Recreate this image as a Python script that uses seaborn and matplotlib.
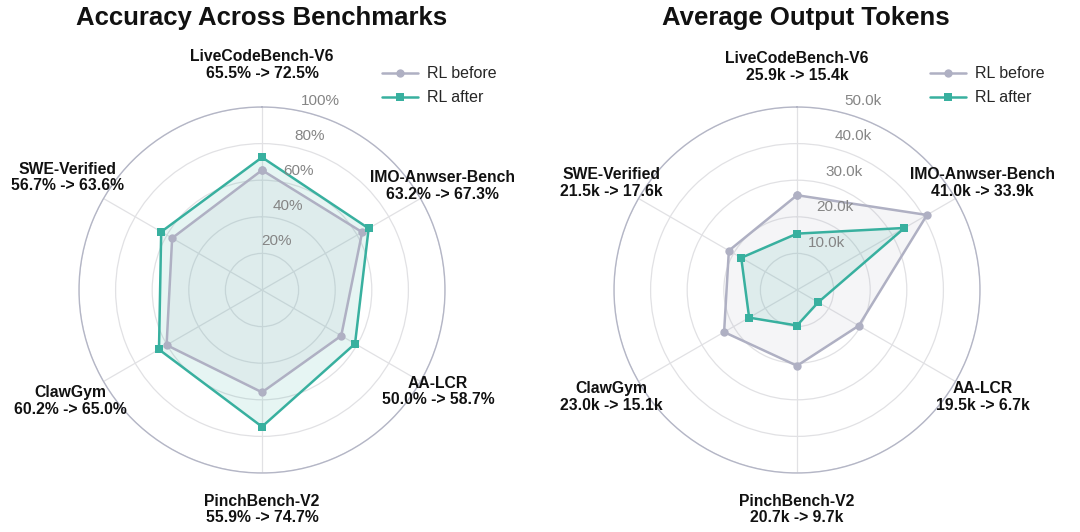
import numpy as np
import pandas as pd
import matplotlib
matplotlib.use("Agg")
import matplotlib.pyplot as plt
import seaborn as sns
from matplotlib.lines import Line2D

# ---------------- data ----------------
categories = ["LiveCodeBench-V6", "IMO-Anwser-Bench", "AA-LCR",
              "PinchBench-V2", "ClawGym", "SWE-Verified"]
acc_before = [65.5, 63.2, 50.0, 55.9, 60.2, 56.7]
acc_after = [72.5, 67.3, 58.7, 74.7, 65.0, 63.6]
tok_before = [25.9, 41.0, 19.5, 20.7, 23.0, 21.5]   # thousands
tok_after = [15.4, 33.9, 6.7, 9.7, 15.1, 17.6]
acc_ticks = [20, 40, 60, 80, 100]
acc_tick_labels = ["20%", "40%", "60%", "80%", "100%"]
tok_ticks = [10, 20, 30, 40, 50]
tok_tick_labels = ["10.0k", "20.0k", "30.0k", "40.0k", "50.0k"]
series_names = ["RL before", "RL after"]
titles = ["Accuracy Across Benchmarks", "Average Output Tokens"]

# ---------------- style ----------------
sns.set_theme(style="white")
plt.rcParams["font.family"] = ["Liberation Sans", "DejaVu Sans"]

C_BEFORE = "#afb0c3"
C_AFTER = "#38b09f"
RING = "#e1e1e4"
OUTER = "#b4b6c6"
LW = 1.8
MS = 6

fig = plt.figure(figsize=(10.8, 5.32), dpi=100)
W, H = 1080, 532


def fmt_acc(v):
    return f"{v:.1f}%"


def fmt_tok(v):
    return f"{v:.1f}k"


def make_radar(cx, before, after, ticks, tick_labels, fmt, title, label_r,
               tick_angle, tick_off, legend_x, title_x):
    R = 183
    ax = fig.add_axes([(cx - R) / W, (H - 290 - R) / H, 2 * R / W, 2 * R / H],
                      projection="polar")
    n = len(categories)
    theta = np.linspace(0, 2 * np.pi, n, endpoint=False)
    ax.set_theta_offset(np.pi / 2)
    ax.set_theta_direction(-1)
    rmax = ticks[-1]

    rows = []
    for name, vals in zip(series_names, [before, after]):
        closed = list(vals) + [vals[0]]
        th = list(theta) + [theta[0] + 2 * np.pi]
        for i, (t, v) in enumerate(zip(th, closed)):
            rows.append({"theta": t, "value": v, "series": name, "order": i})
    df = pd.DataFrame(rows)

    palette = {"RL before": C_BEFORE, "RL after": C_AFTER}
    for name in series_names:
        d = df[df.series == name]
        ax.fill(d.theta, d.value, color=palette[name], alpha=0.12, zorder=2,
                linewidth=0)
    sns.lineplot(data=df, x="theta", y="value", hue="series", style="series",
                 palette=palette, markers={"RL before": "o", "RL after": "s"},
                 dashes=False, sort=False, estimator=None, units="series",
                 linewidth=LW, markersize=MS, markeredgewidth=0,
                 legend=False, ax=ax, zorder=3)

    ax.set_ylim(0, rmax)
    ax.set_yticks(ticks)
    ax.set_yticklabels([])
    ax.set_xticks(theta)
    ax.set_xticklabels([])
    ax.set_xlabel("")
    ax.set_ylabel("")
    ax.grid(True, color=RING, linewidth=0.9)
    ax.spines["polar"].set_color(OUTER)
    ax.spines["polar"].set_linewidth(1.0)
    ax.set_facecolor("none")

    for t, lab in zip(ticks, tick_labels):
        ax.annotate(lab, xy=(np.deg2rad(tick_angle), t), xytext=tick_off,
                    textcoords="offset pixels", ha="center", va="center",
                    fontsize=11, color="#858585", zorder=5)

    for i, cat in enumerate(categories):
        txt = f"{cat}\n{fmt(before[i])} -> {fmt(after[i])}"
        ax.text(theta[i], rmax * label_r[i], txt, ha="center", va="center",
                fontsize=11.3, fontweight="bold", color="#111111",
                linespacing=1.15, clip_on=False)

    handles = [Line2D([], [], color=C_BEFORE, marker="o", lw=LW,
                      markersize=MS, markeredgewidth=0),
               Line2D([], [], color=C_AFTER, marker="s", lw=LW,
                      markersize=MS, markeredgewidth=0)]
    fig.legend(handles, series_names, loc="upper left",
               bbox_to_anchor=(legend_x / W, 1 - 60 / H), frameon=False,
               fontsize=11.5, handlelength=2.2, handletextpad=0.6,
               labelspacing=0.55, borderaxespad=0)
    fig.text(title_x / W, 1 - 18 / H, title, ha="center", va="center",
             fontsize=18.5, fontweight="bold", color="#111111")
    return ax


make_radar(262, acc_before, acc_after, acc_ticks, acc_tick_labels, fmt_acc,
           titles[0], [1.23, 1.14, 1.11, 1.2, 1.21, 1.23], 17.4, (4, 14),
           376, 262)
make_radar(797, tok_before, tok_after, tok_ticks, tok_tick_labels, fmt_tok,
           titles[1], [1.22, 1.17, 1.17, 1.2, 1.17, 1.17], 14.5, (20, 12),
           924, 806)

fig.savefig("out.png", dpi=100, facecolor="white")
